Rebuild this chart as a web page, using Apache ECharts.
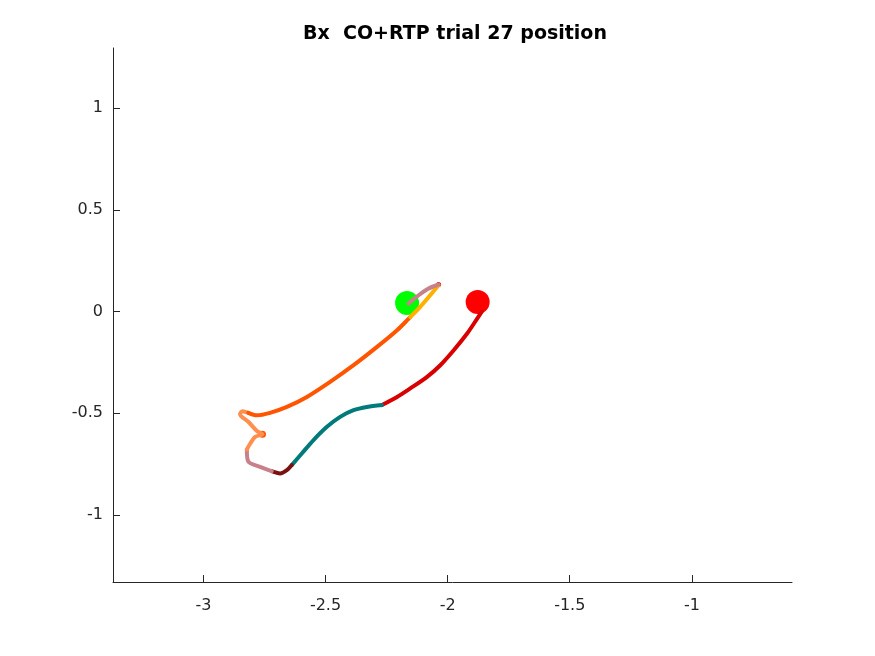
<!DOCTYPE html>
<html lang="en">
<head>
    <meta charset="UTF-8">
    <title>Bx CO+RTP trial 27 position</title>
    <script src="https://cdn.jsdelivr.net/npm/echarts@6/dist/echarts.min.js"></script>
    <style>
        html, body { margin: 0; padding: 0; background: #fff; }
        #main { width: 875px; height: 656px; }
    </style>
</head>
<body>
<div id="main"></div>
<script type="text/javascript">
    // tick labels
    var xTicks = [-3, -2.5, -2, -1.5, -1];
    var yTicks = [-1, -0.5, 0, 0.5, 1];

    // trajectory pieces
    var redX = [-1.860, -1.890, -1.920, -1.975, -2.030, -2.084, -2.153, -2.207, -2.269];
    var redY = [0.000, -0.055, -0.108, -0.190, -0.264, -0.321, -0.378, -0.420, -0.460];
    var tealX = [-2.269, -2.330, -2.385, -2.440, -2.494, -2.549, -2.597, -2.638];
    var tealY = [-0.460, -0.469, -0.485, -0.518, -0.567, -0.632, -0.698, -0.755];
    var maroonX = [-2.638, -2.658, -2.686, -2.720];
    var maroonY = [-0.755, -0.780, -0.796, -0.785];
    var mauveLowX = [-2.720, -2.768, -2.816, -2.822];
    var mauveLowY = [-0.785, -0.764, -0.738, -0.678];
    var peachX = [-2.822, -2.808, -2.788, -2.758, -2.781, -2.816, -2.850, -2.840, -2.816];
    var peachY = [-0.678, -0.649, -0.616, -0.603, -0.587, -0.542, -0.505, -0.490, -0.498];
    var orangeX = [-2.816, -2.781, -2.727, -2.658, -2.576, -2.481, -2.385, -2.289, -2.207, -2.153];
    var orangeY = [-0.498, -0.510, -0.498, -0.469, -0.420, -0.346, -0.264, -0.174, -0.092, -0.027];
    var yellowX = [-2.153, -2.112, -2.037];
    var yellowY = [-0.027, 0.023, 0.129];
    var mauveTopX = [-2.037, -2.078, -2.119, -2.160];
    var mauveTopY = [0.133, 0.113, 0.080, 0.039];

    // markers
    var startDot = [-1.877, 0.047];
    var targetDot = [-2.166, 0.042];
    var tipDot = [-2.037, 0.133];
    var turnDot = [-2.758, -0.603];

    function pairs(xs, ys) {
        return xs.map(function (x, i) { return [x, ys[i]]; });
    }

    function path(xs, ys, color) {
        return {
            type: 'line',
            data: pairs(xs, ys),
            smooth: 0.3,
            showSymbol: false,
            silent: true,
            lineStyle: { color: color, width: 4, cap: 'round', join: 'round' }
        };
    }

    function dot(p, color, size) {
        return {
            type: 'scatter',
            data: [p],
            symbolSize: size,
            silent: true,
            itemStyle: { color: color, opacity: 1 }
        };
    }

    var labelFont = { color: '#262626', fontSize: 16, fontFamily: 'DejaVu Sans, sans-serif' };
    var axisLine = { show: true, onZero: false, lineStyle: { color: '#262626', width: 1 } };

    var myChart = echarts.init(document.getElementById('main'));
    var option = {
        animation: false,
        backgroundColor: '#fff',
        title: {
            text: 'Bx  CO+RTP trial 27 position',
            left: 450,
            top: 20,
            textAlign: 'center',
            textStyle: { fontSize: 19, fontWeight: 'bold', color: '#000', fontFamily: 'DejaVu Sans, sans-serif' }
        },
        grid: { left: 113, right: 83, top: 48, bottom: 74, containLabel: false },
        xAxis: {
            type: 'value',
            min: -3.37,
            max: -0.59,
            axisLine: axisLine,
            axisTick: { show: true, inside: true, length: 7, customValues: xTicks, lineStyle: { color: '#262626' } },
            axisLabel: Object.assign({ margin: 16, customValues: xTicks, formatter: function (v) { return String(v); } }, labelFont),
            splitLine: { show: false }
        },
        yAxis: {
            type: 'value',
            min: -1.33,
            max: 1.296,
            axisLine: axisLine,
            axisTick: { show: true, inside: true, length: 7, customValues: yTicks, lineStyle: { color: '#262626' } },
            axisLabel: Object.assign({ margin: 10, customValues: yTicks, formatter: function (v) { return String(v); } }, labelFont),
            splitLine: { show: false }
        },
        series: [
            path(redX, redY, '#d80000'),
            path(tealX, tealY, '#007a7a'),
            path(maroonX, maroonY, '#7a1010'),
            path(mauveLowX, mauveLowY, '#c8808a'),
            path(peachX, peachY, '#ff8f4f'),
            path(orangeX, orangeY, '#ff5500'),
            path(yellowX, yellowY, '#ffb000'),
            path(mauveTopX, mauveTopY, '#c8808a'),
            dot(turnDot, '#ff5500', 7),
            dot(tipDot, '#e00000', 5),
            dot(startDot, '#ff0000', 24),
            dot(targetDot, '#00ff00', 24)
        ]
    };
    myChart.setOption(option);
</script>
</body>
</html>
